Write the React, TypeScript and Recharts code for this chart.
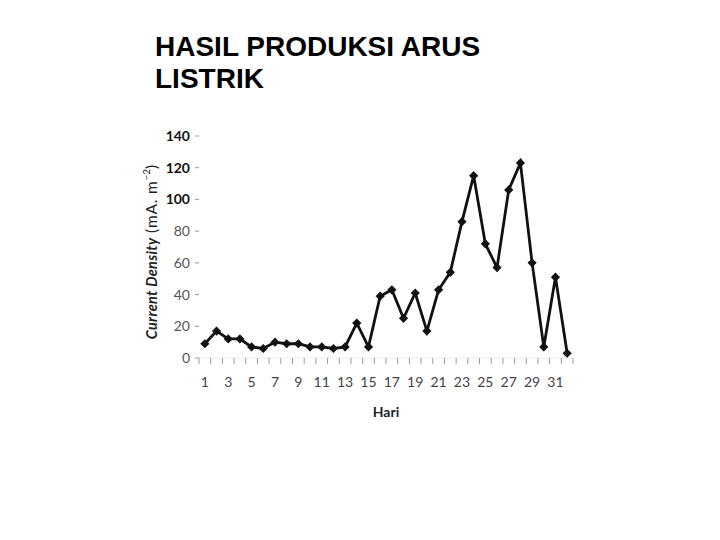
import { LineChart, Line, XAxis, YAxis } from "recharts";

// day of measurement (Hari) and current density readings
const DAYS = [1, 2, 3, 4, 5, 6, 7, 8, 9, 10, 11, 12, 13, 14, 15, 16, 17, 18, 19, 20, 21, 22, 23, 24, 25, 26, 27, 28, 29, 30, 31, 32];
const DENSITY = [9, 17, 12, 12, 7, 6, 10, 9, 9, 7, 7, 6, 7, 22, 7, 39, 43, 25, 41, 17, 43, 54, 86, 115, 72, 57, 106, 123, 60, 7, 51, 3];

const X_LABELS = [1, 3, 5, 7, 9, 11, 13, 15, 17, 19, 21, 23, 25, 27, 29, 31];
// tick marks sit between the days, excel style
const X_TICK_MARKS = [0.5, 1.5, 2.5, 3.5, 4.5, 5.5, 6.5, 7.5, 8.5, 9.5, 10.5, 11.5, 12.5, 13.5, 14.5, 15.5, 16.5, 17.5, 18.5, 19.5, 20.5, 21.5, 22.5, 23.5, 24.5, 25.5, 26.5, 27.5, 28.5, 29.5, 30.5, 31.5, 32.5];
const Y_TICKS = [0, 20, 40, 60, 80, 100, 120, 140];

const data = DAYS.map((day, i) => ({ day, density: DENSITY[i] }));

const FONT = "Lato, 'DejaVu Sans', sans-serif";

function Diamond(props: any) {
  const { cx, cy } = props;
  if (cx == null || cy == null) return null;
  const r = 4.6;
  return <path d={`M${cx},${cy - r}L${cx + r},${cy}L${cx},${cy + r}L${cx - r},${cy}Z`} fill="#111" />;
}

function YTick({ x, y, payload }: any) {
  const big = payload.value >= 100;
  return (
    <text x={x} y={y} dy="0.36em" textAnchor="end" fontFamily={FONT} fontSize={14} fill={big ? "#111" : "#555"} fontWeight={big ? 700 : 400}>
      {payload.value}
    </text>
  );
}

function YTitle({ viewBox }: any) {
  const cx = viewBox.x + 12;
  const cy = viewBox.y + viewBox.height / 2 + 5;
  return (
    <text x={cx} y={cy} transform={`rotate(-90 ${cx} ${cy})`} textAnchor="middle" dominantBaseline="central" fontFamily={FONT} fontSize={14.5} fill="#222">
      <tspan fontWeight={700} fontStyle="italic" letterSpacing={0.3}>Current Density</tspan>
      <tspan fontSize={15.5} letterSpacing={0.8}> (mA. m</tspan>
      <tspan dy={-5} fontSize={10}>−2</tspan>
      <tspan dy={5} fontSize={15.5}>)</tspan>
    </text>
  );
}

function XTitle({ viewBox }: any) {
  return (
    <text x={viewBox.x + viewBox.width / 2} y={417} textAnchor="middle" fontFamily={FONT} fontSize={14} fontWeight={700} fill="#222">
      Hari
    </text>
  );
}

export default function App() {
  return (
    <div style={{ position: "absolute", left: 0, top: 0, width: 720, height: 540, background: "#fff" }}>
      <div
        style={{
          position: "absolute",
          left: 155,
          top: 31,
          width: 360,
          fontFamily: "'Liberation Sans', Arial, sans-serif",
          fontSize: 28,
          fontWeight: 700,
          lineHeight: "32px",
          color: "#000",
        }}
      >
        HASIL PRODUKSI ARUS
        <br />
        LISTRIK
      </div>
      <LineChart width={720} height={540} data={data} margin={{ top: 136, right: 147, bottom: 120, left: 139 }}>
        <XAxis
          xAxisId="a_marks"
          dataKey="day"
          type="number"
          domain={[0.5, 32.5]}
          ticks={X_TICK_MARKS}
          interval={0}
          tickFormatter={() => ""}
          tickSize={6}
          tickLine={{ stroke: "#999" }}
          axisLine={{ stroke: "#ececec" }}
          height={10}
        />
        <XAxis
          xAxisId="b_labels"
          dataKey="day"
          type="number"
          domain={[0.5, 32.5]}
          ticks={X_LABELS}
          interval={0}
          tickLine={false}
          axisLine={false}
          tickSize={6}
          tickMargin={3}
          tick={{ fontFamily: FONT, fontSize: 14, fill: "#444" }}
          height={52}
          label={<XTitle />}
        />
        <YAxis
          domain={[0, 140]}
          ticks={Y_TICKS}
          width={60}
          axisLine={false}
          tickSize={4}
          tickMargin={5}
          tickLine={{ stroke: "#999" }}
          tick={<YTick />}
          label={<YTitle />}
        />
        <Line
          xAxisId="a_marks"
          type="linear"
          dataKey="density"
          stroke="#111"
          strokeWidth={2.8}
          dot={(p: any) => <Diamond key={p.index} {...p} />}
          activeDot={false}
          isAnimationActive={false}
        />
      </LineChart>
    </div>
  );
}
